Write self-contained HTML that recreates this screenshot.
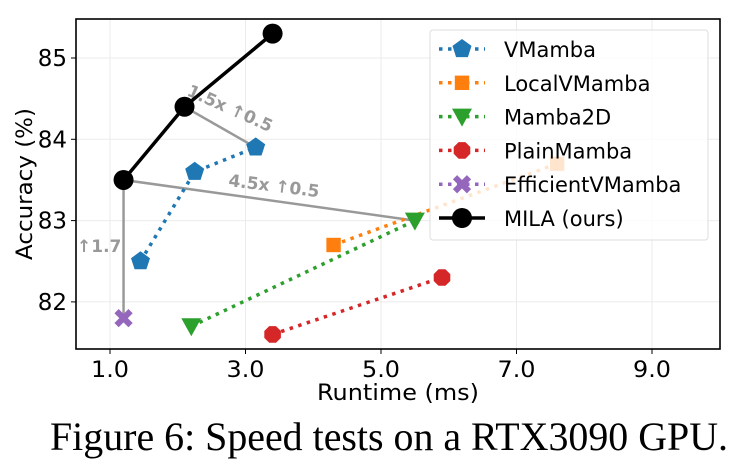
<!DOCTYPE html>
<html><head><meta charset="utf-8"><style>
html,body{margin:0;padding:0;background:#fff;width:748px;height:469px;overflow:hidden}
svg{display:block}
text{font-family:"DejaVu Sans","Liberation Sans",sans-serif}
</style></head><body>
<svg id="chart" width="748" height="469" xmlns="http://www.w3.org/2000/svg">
<g id="grid"></g>
<g id="ann"></g>
<g id="series"></g>
<rect x="76" y="19" width="644" height="330" fill="none" stroke="#000" stroke-width="1.6"/>
<g id="ticks"></g>
<text x="398" y="400" font-size="22" text-anchor="middle" textLength="162" lengthAdjust="spacingAndGlyphs">Runtime (ms)</text>
<text transform="translate(32,184) rotate(-90)" font-size="22" text-anchor="middle" textLength="152" lengthAdjust="spacingAndGlyphs">Accuracy (%)</text>
<g id="legend"></g>
<text x="50" y="450" font-size="40" textLength="678" lengthAdjust="spacingAndGlyphs" style="font-family:'Liberation Serif',serif">Figure 6: Speed tests on a RTX3090 GPU.</text>
</svg>
<script>
const seriesNames=["VMamba","LocalVMamba","Mamba2D","PlainMamba","EfficientVMamba","MILA (ours)"];
const vmambaX=[1.45,2.25,3.15], vmambaY=[82.5,83.6,83.9];
const localX=[4.3,7.6], localY=[82.7,83.7];
const mamba2dX=[2.2,5.5], mamba2dY=[81.7,83.0];
const plainX=[3.4,5.9], plainY=[81.6,82.3];
const effX=[1.2], effY=[81.8];
const milaX=[1.2,2.1,3.4], milaY=[83.5,84.4,85.3];
const xTicks=[1,3,5,7,9], xTickLabels=["1.0","3.0","5.0","7.0","9.0"];
const yTicks=[82,83,84,85], yTickLabels=["82","83","84","85"];
const annLabels=["1.5x ↑0.5","4.5x ↑0.5","↑1.7"];

const NS="http://www.w3.org/2000/svg";
const X=v=>110+(v-1)*67.75, Y=v=>58+(85-v)*81.3;
function mk(tag,attrs,parent){const e=document.createElementNS(NS,tag);for(const k in attrs)e.setAttribute(k,attrs[k]);parent.appendChild(e);return e;}
const grid=document.getElementById('grid'),ticks=document.getElementById('ticks');
xTicks.forEach((t,i)=>{
 const g=mk('line',{x1:X(t),x2:X(t),y1:19,y2:349,stroke:'#ebebeb','stroke-width':1},grid);
 
 const tk=mk('line',{x1:X(t),x2:X(t),y1:349,y2:354,stroke:'#000'},ticks);
 
 const tx=mk('text',{x:X(t),y:377,'font-size':22,'text-anchor':'middle',textLength:38,lengthAdjust:'spacingAndGlyphs'},ticks);
 tx.textContent=xTickLabels[i];
 
});
yTicks.forEach((t,i)=>{
 const g=mk('line',{x1:76,x2:720,y1:Y(t),y2:Y(t),stroke:'#ebebeb','stroke-width':1},grid);
 
 const tk=mk('line',{x1:71,x2:76,y1:Y(t),y2:Y(t),stroke:'#000'},ticks);
 
 const tx=mk('text',{x:67,y:Y(t)+8,'font-size':23,'text-anchor':'end'},ticks);
 tx.textContent=yTickLabels[i];
 
});
const ann=document.getElementById('ann');
function gl(x1,y1,x2,y2,name){const l=mk('line',{x1:X(x1),y1:Y(y1),x2:X(x2),y2:Y(y2),stroke:'#999','stroke-width':2.5},ann);}
gl(milaX[1],milaY[1],vmambaX[2],vmambaY[2],'annotation-line-vmamba');
gl(milaX[0],milaY[0],mamba2dX[1],mamba2dY[1],'annotation-line-mamba2d');
gl(effX[0],effY[0],milaX[0],milaY[0],'annotation-arrow-efficient');
function at(txt,x,y,rot,name){const t=mk('text',{x:x,y:y,'font-size':17,'font-weight':'bold',fill:'#999',transform:`rotate(${rot} ${x} ${y})`},ann);t.textContent=txt;}
at(annLabels[0],186,95,24,'annotation-label-vmamba');
at(annLabels[1],228,186,7,'annotation-label-mamba2d');
at(annLabels[2],77,252,0,'annotation-label-efficient');
function marker(kind,cx,cy,color,s,parent,name){
 let e;
 if(kind==='pent'){let p=[];for(let i=0;i<5;i++){const a=-Math.PI/2+i*2*Math.PI/5;p.push((cx+s*Math.cos(a)).toFixed(1)+','+(cy+s*Math.sin(a)).toFixed(1));}e=mk('polygon',{points:p.join(' '),fill:color},parent);}
 else if(kind==='sq'){e=mk('rect',{x:cx-s*0.8,y:cy-s*0.8,width:s*1.6,height:s*1.6,fill:color},parent);}
 else if(kind==='tri'){e=mk('polygon',{points:`${cx-s},${cy-s*0.8} ${cx+s},${cy-s*0.8} ${cx},${cy+s}`,fill:color},parent);}
 else if(kind==='oct'){let p=[];for(let i=0;i<8;i++){const a=Math.PI/8+i*Math.PI/4;p.push((cx+s*Math.cos(a)).toFixed(1)+','+(cy+s*Math.sin(a)).toFixed(1));}e=mk('polygon',{points:p.join(' '),fill:color},parent);}
 else if(kind==='x'){e=mk('path',{d:`M${cx-s*0.7},${cy-s*0.7}L${cx+s*0.7},${cy+s*0.7}M${cx+s*0.7},${cy-s*0.7}L${cx-s*0.7},${cy+s*0.7}`,stroke:color,'stroke-width':s*0.6},parent);}
 else {e=mk('circle',{cx:cx,cy:cy,r:s,fill:color},parent);}
 
}
const sg=document.getElementById('series');
const defs=[
 [vmambaX,vmambaY,'#1f77b4','pent',10,true,'vmamba'],
 [localX,localY,'#ff7f0e','sq',9,true,'localvmamba'],
 [mamba2dX,mamba2dY,'#2ca02c','tri',10,true,'mamba2d'],
 [plainX,plainY,'#d62728','oct',9,true,'plainmamba'],
 [effX,effY,'#9467bd','x',10,true,'efficientvmamba'],
 [milaX,milaY,'#000','circ',10,false,'mila']];
defs.forEach(d=>{
 const [xs,ys,c,k,s,dot,n]=d;
 const g=mk('g',{},sg);
 if(xs.length>1){const l=mk('polyline',{points:xs.map((x,i)=>X(x)+','+Y(ys[i])).join(' '),fill:'none',stroke:c,'stroke-width':3.5,'stroke-dasharray':dot?'3.5 5.5':'none'},g);
  }
 xs.forEach((x,i)=>marker(k,X(x),Y(ys[i]),c,s,g,n+'-point'));
});
const lg=document.getElementById('legend');
const lb=mk('rect',{x:430,y:30,width:278,height:210,rx:3,fill:'rgba(255,255,255,0.8)',stroke:'#ddd'},lg);

defs.forEach((d,i)=>{
 const y=49+i*33.8;
 const g=mk('g',{},lg);
 const l=mk('line',{x1:439,x2:485,y1:y,y2:y,stroke:d[2],'stroke-width':3.5,'stroke-dasharray':d[5]?'3.5 5.5':'none'},g);
 
 marker(d[3],462,y,d[2],d[4],g,'legend-marker');
 const t=mk('text',{x:504,y:y+8,'font-size':21},g);t.textContent=seriesNames[i];
 
});
</script>
</body></html>
